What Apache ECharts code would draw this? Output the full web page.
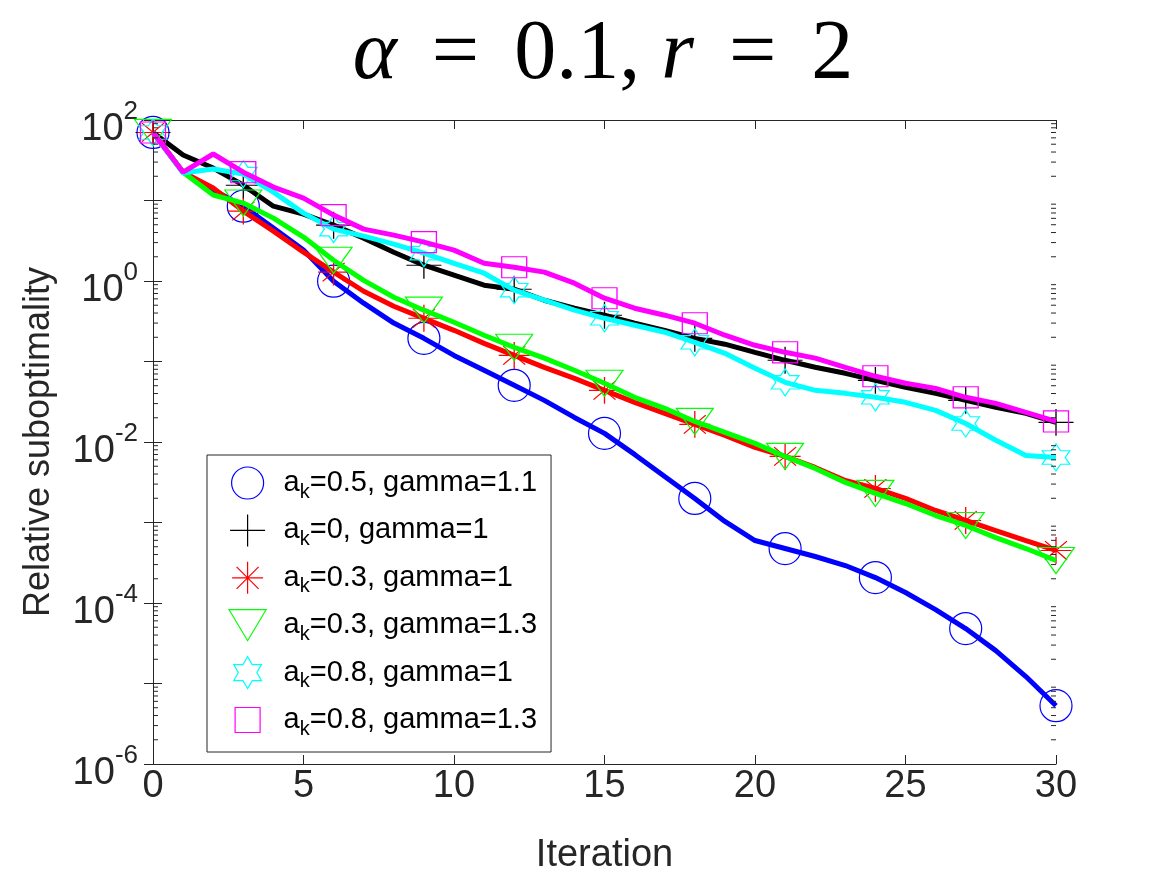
<!DOCTYPE html>
<html>
<head>
<meta charset="utf-8">
<script src="https://cdn.jsdelivr.net/npm/echarts@6/dist/echarts.min.js"></script>
<style>html,body{margin:0;padding:0;background:#fff;}#main{width:1167px;height:875px;}</style>
</head>
<body>
<div id="main"></div>
<script>
const iterations = [0,1,2,3,4,5,6,7,8,9,10,11,12,13,14,15,16,17,18,19,20,21,22,23,24,25,26,27,28,29,30];
const seriesNames = ['a_k=0.5, gamma=1.1','a_k=0, gamma=1','a_k=0.3, gamma=1','a_k=0.3, gamma=1.3','a_k=0.8, gamma=1','a_k=0.8, gamma=1.3'];
const blueVals = [70, 22.5, 13.5, 8.5, 4.54, 2.42, 0.995, 0.53, 0.30, 0.194, 0.119, 0.0778, 0.0506, 0.0329, 0.0202, 0.0128, 0.00701, 0.00373, 0.00199, 0.00103, 0.000597, 0.000475, 0.000378, 0.000292, 0.000207, 0.000135, 8.28e-5, 4.81e-5, 2.56e-5, 1.22e-5, 5.3e-6];
const blackVals = [70, 36.7, 25.3, 15.5, 8.5, 6.78, 4.94, 3.41, 2.28, 1.57, 1.18, 0.887, 0.791, 0.577, 0.459, 0.376, 0.299, 0.244, 0.194, 0.164, 0.130, 0.1035, 0.0847, 0.0713, 0.0583, 0.0478, 0.0402, 0.0329, 0.0269, 0.0227, 0.01754];
const redVals = [70, 22.5, 14.3, 7.38, 4.16, 2.28, 1.29, 0.746, 0.486, 0.344, 0.244, 0.168, 0.119, 0.0847, 0.0618, 0.0438, 0.0311, 0.0227, 0.01656, 0.01208, 0.00857, 0.00662, 0.00483, 0.00333, 0.00265, 0.00199, 0.00141, 0.00106, 0.000795, 0.000597, 0.000449];
const greenVals = [70, 22.5, 11.7, 9.29, 6.04, 3.51, 1.81, 1.02, 0.629, 0.434, 0.307, 0.212, 0.150, 0.110, 0.0778, 0.0536, 0.0359, 0.0262, 0.0180, 0.01316, 0.00961, 0.00662, 0.0047, 0.00315, 0.0023, 0.00172, 0.00122, 0.000918, 0.00065, 0.000475, 0.000337];
const cyanVals = [70, 21.9, 24.6, 21.3, 12.7, 6.97, 4.41, 3.61, 2.87, 2.22, 1.66, 1.25, 0.769, 0.577, 0.434, 0.344, 0.282, 0.231, 0.173, 0.1265, 0.0822, 0.0551, 0.0438, 0.0402, 0.0359, 0.0311, 0.0247, 0.0170, 0.0105, 0.0068, 0.00643];
const magentaVals = [70, 22.5, 37.8, 22.5, 14.7, 10.7, 6.58, 4.41, 3.71, 3.04, 2.42, 1.66, 1.48, 1.29, 0.94, 0.611, 0.459, 0.376, 0.299, 0.212, 0.159, 0.130, 0.110, 0.0847, 0.0655, 0.0536, 0.0464, 0.0359, 0.0302, 0.0233, 0.0180];
const xTicks = [0,5,10,15,20,25,30];
const yLabelExponents = [2,0,-2,-4,-6];

const colors = ['#0000ff','#000000','#ff0000','#00ff00','#00ffff','#ff00ff'];
const allVals = [blueVals, blackVals, redVals, greenVals, cyanVals, magentaVals];

const box = 'M-19,-16M19,16';
const symbols = [
  'circle',
  'path://' + box + 'M0,-16L0,16M-17.5,0L17.5,0',
  'path://' + box + 'M0,-16L0,16M-15.5,0L15.5,0M-11,-11L11,11M-11,11L11,-11',
  'path://' + box + 'M-18.5,-15.5L18.5,-15.5L0,15.5Z',
  'path://' + box + 'M0,-16L4.62,-8L13.86,-8L9.24,0L13.86,8L4.62,8L0,16L-4.62,8L-13.86,8L-9.24,0L-13.86,-8L-4.62,-8Z',
  'path://' + box + 'M-12.5,-12.5L12.5,-12.5L12.5,12.5L-12.5,12.5Z'
];
const symSizes = [32, [38,32], [38,32], [38,32], [38,32], [38,32]];

const FONT = 'Liberation Sans, Arial, Helvetica, sans-serif';
const SERIF = 'Liberation Serif, DejaVu Serif, serif';
const TXT = '#262626';

const chart = echarts.init(document.getElementById('main'), null, {renderer: 'canvas'});

const series = seriesNames.map((name, i) => ({
  name: name,
  type: 'line',
  data: iterations.map((x, j) => [x, allVals[i][j]]),
  xAxisIndex: 0, yAxisIndex: 0,
  showAllSymbol: true,
  symbol: (function(sym){ return function(v, p){ return p.dataIndex % 3 === 0 ? sym : 'none'; }; })(symbols[i]),
  symbolSize: symSizes[i],
  symbolKeepAspect: true,
  lineStyle: {color: colors[i], width: 5},
  itemStyle: {color: 'rgba(0,0,0,0)', borderColor: colors[i], borderWidth: 1.2},
  emphasis: {disabled: true},
  silent: true,
  animation: false,
  z: 2 + i
}));

const logAxisBase = {
  type: 'log', logBase: 10, min: 1e-6, max: 100, interval: 1,
  axisLine: {show: true, lineStyle: {color: TXT, width: 1}},
  axisTick: {show: true, inside: true, length: 9, lineStyle: {color: TXT, width: 1}},
  splitLine: {show: false},
  minorTick: {show: false}
};

chart.setOption({
  animation: false,
  backgroundColor: '#fff',
  title: {
    left: 603,
    textAlign: 'center',
    top: 14,
    padding: 0,
    text: '{i|α}{e|=}0.1, {i|r}{e|=}2',
    textStyle: {
      fontFamily: SERIF,
      fontSize: 84, fontWeight: 'normal', color: '#000',
      rich: {
        i: {fontFamily: SERIF, fontStyle: 'italic', fontSize: 84, color: '#000'},
        e: {fontFamily: SERIF, fontSize: 84, color: '#000', padding: [0, 35, 0, 35]}
      }
    }
  },
  grid: {left: 153, right: 111, top: 120, bottom: 111, containLabel: false, outerBoundsMode: 'none'},
  xAxis: [{
    type: 'value', min: 0, max: 30, interval: 5, position: 'bottom',
    name: 'Iteration', nameLocation: 'middle', nameGap: 73,
    nameTextStyle: {fontFamily: FONT, fontSize: 38, color: TXT},
    axisLine: {show: true, onZero: false, lineStyle: {color: TXT, width: 1}},
    axisTick: {show: true, inside: true, length: 9, lineStyle: {color: TXT}},
    axisLabel: {fontFamily: FONT, fontSize: 38, color: TXT, margin: 4},
    splitLine: {show: false}
  }, {
    type: 'value', min: 0, max: 30, interval: 5, position: 'top',
    axisLine: {show: true, onZero: false, lineStyle: {color: TXT, width: 1}},
    axisTick: {show: true, inside: true, length: 9, lineStyle: {color: TXT}},
    axisLabel: {show: false},
    splitLine: {show: false}
  }],
  yAxis: [Object.assign({}, logAxisBase, {
    position: 'left',
    name: 'Relative suboptimality', nameLocation: 'middle', nameGap: 96,
    nameTextStyle: {fontFamily: FONT, fontSize: 36, color: TXT},
    axisLabel: {
      margin: 15,
      padding: [19, 0, 0, 0],
      formatter: function(v){
        const e = Math.round(Math.log10(v));
        if (yLabelExponents.indexOf(e) < 0) return '';
        return '{b|10}{s|' + e + '}';
      },
      rich: {
        b: {fontFamily: FONT, fontSize: 38, color: TXT},
        s: {fontFamily: FONT, fontSize: 26, color: TXT, padding: [0, 0, 36, 0]}
      }
    }
  }), Object.assign({}, logAxisBase, {
    position: 'right',
    axisLabel: {show: false}
  })],
  legend: {
    orient: 'vertical',
    left: 207, top: 455,
    padding: [9, 14, 13, 21],
    itemGap: 9.4,
    itemWidth: 62, itemHeight: 32,
    backgroundColor: '#fff',
    borderColor: TXT, borderWidth: 1, borderRadius: 0,
    selectedMode: false,
    data: seriesNames.map((n, i) => ({
      name: n, icon: symbols[i],
      itemStyle: {color: 'rgba(0,0,0,0)', borderColor: colors[i], borderWidth: 1.2}
    })),
    formatter: function(n){ return n.replace('a_k', 'a{sub|k}'); },
    textStyle: {
      fontFamily: FONT, fontSize: 29, color: '#000', lineHeight: 38,
      rich: {sub: {fontFamily: FONT, fontSize: 20, color: '#000', lineHeight: 16, verticalAlign: 'bottom'}}
    }
  },
  series: series
});

// minor ticks (2..9 within each decade) computed through the log axis scale
const graphics = [];
const xl = chart.convertToPixel({xAxisIndex: 0}, 0);
const xr = chart.convertToPixel({xAxisIndex: 0}, 30);
for (let d = -6; d < 2; d++) {
  for (let k = 2; k <= 9; k++) {
    const v = k * Math.pow(10, d);
    const py = chart.convertToPixel({yAxisIndex: 0}, v);
    graphics.push({type: 'line', silent: true, z: 50, shape: {x1: xl, y1: py, x2: xl + 5, y2: py}, style: {stroke: TXT, lineWidth: 1}});
    graphics.push({type: 'line', silent: true, z: 50, shape: {x1: xr - 5, y1: py, x2: xr, y2: py}, style: {stroke: TXT, lineWidth: 1}});
  }
}
chart.setOption({graphic: graphics});
</script>
</body>
</html>
